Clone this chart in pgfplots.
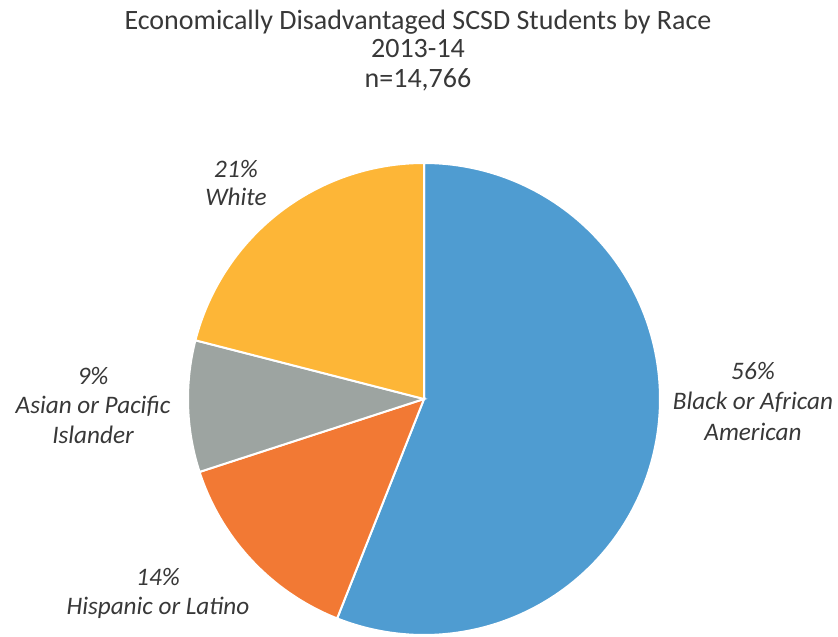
\documentclass[border=0pt]{standalone}
\usepackage{pgfplots}
\pgfplotsset{compat=1.18}
\usepackage{fontspec}
\setmainfont{Carlito}
\definecolor{cblue}{HTML}{4F9CD1}
\definecolor{corange}{HTML}{F27934}
\definecolor{cgray}{HTML}{9DA4A1}
\definecolor{cyellow}{HTML}{FDB637}
\definecolor{ctext}{HTML}{383838}
\begin{document}
\begin{tikzpicture}
\begin{axis}[x=0.5pt,y=0.5pt,xmin=0,xmax=838,ymin=0,ymax=636,hide axis,clip=false,anchor=south west,at={(0,0)}]
% Pie: centre (424,237), radius 236; shares 56, 14, 9, 21 percent, clockwise from the top
\addplot[fill=cblue,draw=white,line width=1pt,domain=-111.6:90,samples=150,variable=\t]
  ({424+236*cos(t)},{237+236*sin(t)}) -- (axis cs:424,237) -- cycle;
\addplot[fill=corange,draw=white,line width=1pt,domain=-162:-111.6,samples=60,variable=\t]
  ({424+236*cos(t)},{237+236*sin(t)}) -- (axis cs:424,237) -- cycle;
\addplot[fill=cgray,draw=white,line width=1pt,domain=-194.4:-162,samples=40,variable=\t]
  ({424+236*cos(t)},{237+236*sin(t)}) -- (axis cs:424,237) -- cycle;
\addplot[fill=cyellow,draw=white,line width=1pt,domain=-270:-194.4,samples=80,variable=\t]
  ({424+236*cos(t)},{237+236*sin(t)}) -- (axis cs:424,237) -- cycle;
% Title
\begin{scope}[every node/.style={anchor=base,text=ctext,font=\fontsize{14}{16}\selectfont,inner sep=0pt}]
\node at (axis cs:418,606) {Economically Disadvantaged SCSD Students by Race};
\node at (axis cs:418,578) {2013-14};
\node at (axis cs:418,548) {n=14,766};
\end{scope}
% Labels
\begin{scope}[every node/.style={anchor=base,text=ctext,font=\fontsize{12.6}{15}\selectfont\itshape,inner sep=0pt}]
\node at (axis cs:753,256) {56\%};
\node at (axis cs:753,226) {Black or African};
\node at (axis cs:753,195) {American};
\node at (axis cs:236,458) {21\%};
\node at (axis cs:236,430) {White};
\node at (axis cs:93,251) {9\%};
\node at (axis cs:93,222) {Asian or Pacific};
\node at (axis cs:93,192) {Islander};
\node at (axis cs:158,51) {14\%};
\node at (axis cs:158,22) {Hispanic or Latino};
\end{scope}
\end{axis}
\pgfresetboundingbox
\useasboundingbox (0,0) rectangle (419pt,318pt);
\end{tikzpicture}
\end{document}
